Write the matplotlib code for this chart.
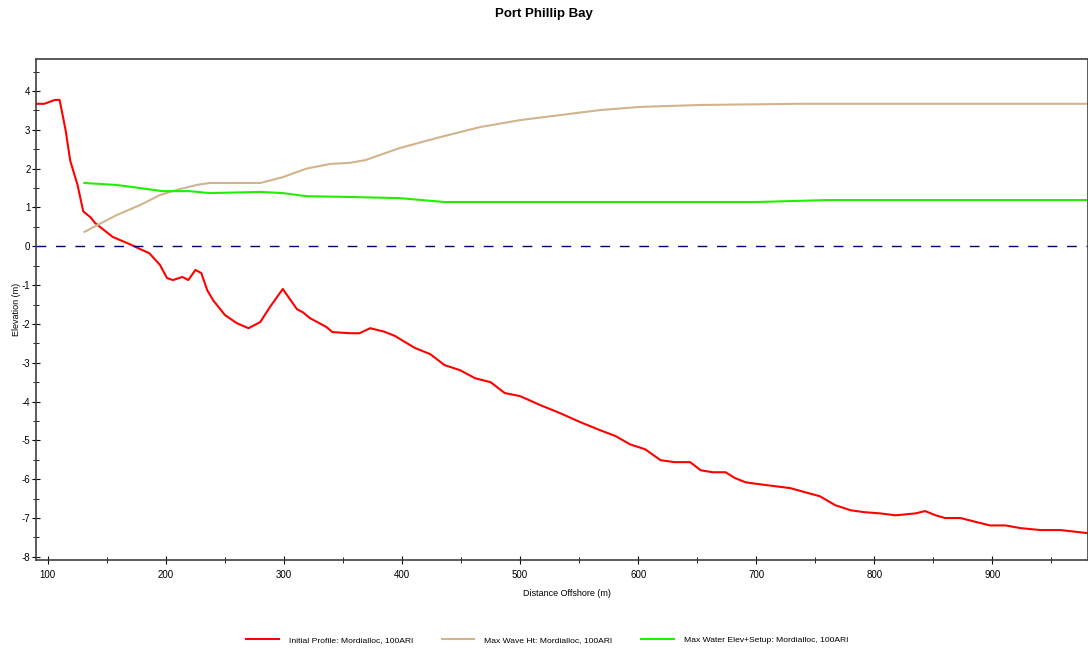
import matplotlib
matplotlib.use("Agg")
import matplotlib.pyplot as plt
from matplotlib.ticker import MultipleLocator

plt.rcParams["font.family"] = ["Liberation Sans", "DejaVu Sans"]
plt.rcParams["axes.unicode_minus"] = False

# Initial Profile (red)
profile_x = [90, 97, 106, 110, 115, 119, 125, 130, 136, 140, 155, 169, 178, 186, 195,
             201, 206, 214, 219, 225, 230, 235, 240, 250, 260, 270, 280, 288, 299,
             311, 316, 322, 336, 341, 356, 364, 373, 385, 394, 400, 411, 424, 436,
             449, 462, 475, 487, 500, 517, 534, 551, 568, 581, 593, 606, 619, 631,
             644, 653, 663, 674, 682, 691, 703, 716, 729, 742, 754, 767, 780, 792,
             805, 818, 835, 843, 852, 860, 873, 886, 898, 911, 924, 941, 958, 981]
profile_z = [3.67, 3.67, 3.77, 3.77, 3.0, 2.2, 1.6, 0.9, 0.75, 0.6, 0.24, 0.06, -0.07,
             -0.18, -0.48, -0.82, -0.87, -0.79, -0.87, -0.61, -0.69, -1.13, -1.39,
             -1.77, -1.98, -2.11, -1.95, -1.57, -1.10, -1.62, -1.70, -1.85, -2.08,
             -2.21, -2.24, -2.24, -2.11, -2.2, -2.31, -2.42, -2.62, -2.78, -3.06,
             -3.19, -3.40, -3.50, -3.78, -3.86, -4.09, -4.30, -4.53, -4.74, -4.89,
             -5.10, -5.23, -5.51, -5.56, -5.56, -5.77, -5.82, -5.82, -5.97, -6.08,
             -6.13, -6.18, -6.23, -6.34, -6.44, -6.67, -6.80, -6.85, -6.88, -6.93,
             -6.88, -6.82, -6.93, -7.0, -7.0, -7.1, -7.19, -7.19, -7.26, -7.31,
             -7.31, -7.39]

# Max Wave Ht (tan)
wave_x = [131, 158, 178, 195, 209, 226, 237, 280, 299, 319, 339, 356, 369, 398, 432,
          466, 500, 534, 568, 602, 653, 737, 981]
wave_z = [0.37, 0.8, 1.06, 1.32, 1.45, 1.58, 1.63, 1.63, 1.78, 2.0, 2.12, 2.15, 2.22,
          2.53, 2.81, 3.07, 3.25, 3.38, 3.51, 3.59, 3.64, 3.67, 3.67]

# Max Water Elev+Setup (green)
water_x = [131, 158, 178, 197, 220, 237, 280, 299, 319, 356, 398, 436, 700, 760, 981]
water_z = [1.63, 1.58, 1.5, 1.42, 1.42, 1.37, 1.40, 1.37, 1.29, 1.27, 1.24, 1.14,
           1.14, 1.19, 1.19]

fig = plt.figure(figsize=(10.88, 6.5), dpi=100)
ax = fig.add_axes([0.0331, 0.1385, 0.9669, 0.7705])

ax.plot(profile_x, profile_z, color="#ff0000", lw=1.5,
        label="Initial Profile: Mordialloc, 100ARI")
ax.plot(wave_x, wave_z, color="#d2b48c", lw=1.5,
        label="Max Wave Ht: Mordialloc, 100ARI")
ax.plot(water_x, water_z, color="#22ee00", lw=1.5,
        label="Max Water Elev+Setup: Mordialloc, 100ARI")
ax.axhline(0, color="#000080", lw=1, dashes=(7, 7))

ax.set_xlim(90, 981)
ax.set_ylim(-8.08, 4.82)
ax.xaxis.set_major_locator(MultipleLocator(100))
ax.xaxis.set_minor_locator(MultipleLocator(50))
ax.yaxis.set_major_locator(MultipleLocator(1))
ax.yaxis.set_minor_locator(MultipleLocator(0.5))
ax.tick_params(which="both", direction="inout", labelsize=7, color="#000000")
ax.tick_params(which="major", length=6)
ax.tick_params(which="minor", length=5)
ax.tick_params(axis="y", pad=1)
ax.tick_params(axis="x", pad=4)
for s in ax.spines.values():
    s.set_color("#404040")
    s.set_linewidth(1.2)

ax.set_xlabel("Distance Offshore (m)", fontsize=6.5)
ax.set_ylabel("Elevation (m)", fontsize=6.5)
ax.xaxis.set_label_coords(0.505, -0.058)
ax.yaxis.set_label_coords(-0.014, 0.5)
fig.suptitle("Port Phillip Bay", fontsize=9.5, fontweight="bold", y=0.9875)

fig.legend(loc="lower center", ncol=3, frameon=False, fontsize=6.1,
           bbox_to_anchor=(0.503, -0.002), handlelength=3.8, columnspacing=3.4,
           handletextpad=1.2)

fig.savefig("out.png", dpi=100)
